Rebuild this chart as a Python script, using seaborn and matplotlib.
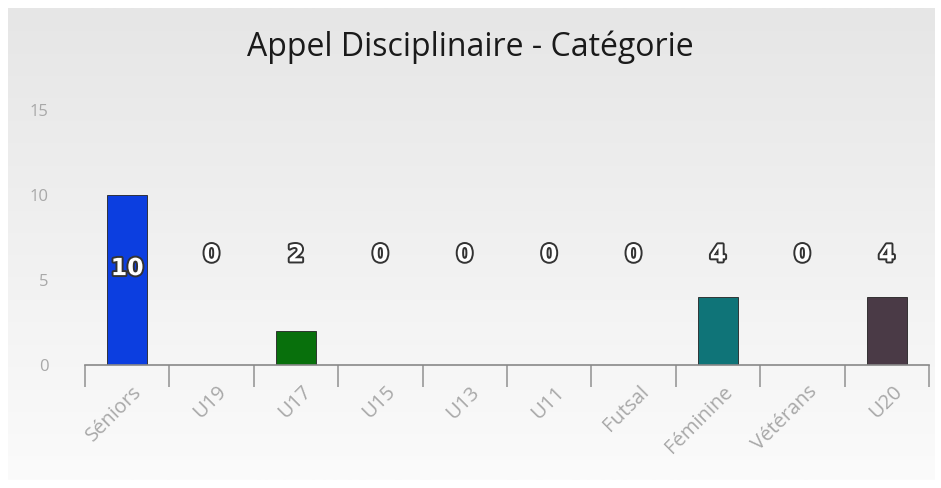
import numpy as np
import pandas as pd
import matplotlib
matplotlib.use("Agg")
import matplotlib.pyplot as plt
import matplotlib.patheffects as pe
import seaborn as sns

# Data
categories = ["Séniors", "U19", "U17", "U15", "U13", "U11", "Futsal", "Féminine", "Vétérans", "U20"]
values = [10, 0, 2, 0, 0, 0, 0, 4, 0, 4]
colors = ["#0c3ee0", "#888888", "#08700c", "#888888", "#888888", "#888888",
          "#888888", "#0f7478", "#888888", "#4a3a46"]

df = pd.DataFrame({"categorie": categories, "valeur": values})

sns.set_style("white")
plt.rcParams["font.family"] = ["Open Sans", "DejaVu Sans"]

fig = plt.figure(figsize=(9.41, 4.88), dpi=100)
fig.patch.set_facecolor("white")

# -----------------------
# Background gradient
# -----------------------
bg = fig.add_axes([8 / 941, 8 / 488, 927 / 941, 472 / 488])
grad = np.linspace(0, 1, 256).reshape(-1, 1)
cmap = matplotlib.colors.LinearSegmentedColormap.from_list("bg", ["#e6e6e6", "#fbfbfb"])
bg.imshow(grad, aspect="auto", cmap=cmap, extent=[0, 1, 0, 1])
bg.set_axis_off()

# -----------------------
# Bars
# -----------------------
ax = fig.add_axes([85 / 941, 1 - 365 / 488, 844 / 941, 255 / 488])
ax.patch.set_alpha(0)
sns.barplot(data=df, x="categorie", y="valeur", hue="categorie",
            palette=dict(zip(categories, colors)), width=0.47, saturation=1,
            legend=False, ax=ax, edgecolor="#222222", linewidth=0.6)

ax.set_ylim(0, 15)
ax.set_xlim(-0.5, len(categories) - 0.5)
ax.set_yticks([0, 5, 10, 15])
ax.tick_params(axis="y", length=0, labelsize=12, labelcolor="#a8a8a8", pad=26)
ax.set_xlabel("")
ax.set_ylabel("")
for s in ["top", "right", "left"]:
    ax.spines[s].set_visible(False)
ax.spines["bottom"].set_color("#888888")
ax.spines["bottom"].set_linewidth(1.2)

# category separator ticks
ax.set_xticks(range(len(categories)))
ax.set_xticks(np.arange(-0.5, len(categories), 1), minor=True)
ax.tick_params(axis="x", which="minor", bottom=True, length=16, color="#999999", width=1.2, direction="out")
ax.tick_params(axis="x", which="major", length=0, pad=8)
ax.set_xticklabels(categories, rotation=45, ha="right", rotation_mode="anchor",
                   fontsize=14.5, color="#a8a8a8")
for lbl in ax.get_xticklabels():
    lbl.set_transform(lbl.get_transform() + matplotlib.transforms.ScaledTranslation(5 / 100, -6 / 100, fig.dpi_scale_trans))

# value labels
for i, v in enumerate(values):
    y = 6.5 if v < 6.5 else v * 0.57
    ax.text(i, y, str(v), ha="center", va="center", fontsize=17, fontweight="bold",
            color="white", family=["DejaVu Sans"],
            path_effects=[pe.withStroke(linewidth=2.8, foreground="#333333")])

fig.text(0.5, 1 - 47 / 488, "Appel Disciplinaire - Catégorie", ha="center", va="center",
         fontsize=23, color="#1a1a1a")

fig.savefig("out.png", dpi=100)
